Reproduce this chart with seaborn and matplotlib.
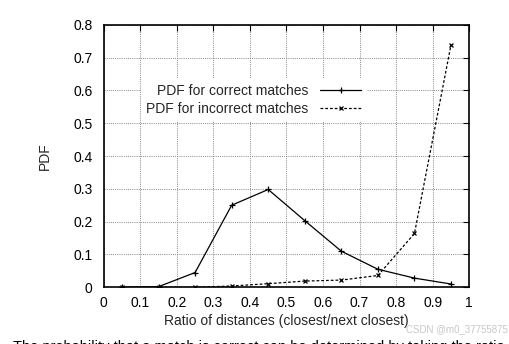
import matplotlib
matplotlib.use("Agg")
import matplotlib.pyplot as plt
import seaborn as sns

# Bin centres of the distance ratio
ratio = [0.05, 0.15, 0.25, 0.35, 0.45, 0.55, 0.65, 0.75, 0.85, 0.95]
pdf_correct = [0.0, 0.002, 0.045, 0.250, 0.298, 0.203, 0.110, 0.055, 0.028, 0.010]
pdf_incorrect = [0.0, 0.0, 0.0, 0.004, 0.011, 0.019, 0.022, 0.036, 0.164, 0.739]

series_labels = ["PDF for correct matches", "PDF for incorrect matches"]
x_ticks = [0, 0.1, 0.2, 0.3, 0.4, 0.5, 0.6, 0.7, 0.8, 0.9, 1]
x_tick_labels = ["0", "0.1", "0.2", "0.3", "0.4", "0.5", "0.6", "0.7", "0.8", "0.9", "1"]
y_ticks = [0, 0.1, 0.2, 0.3, 0.4, 0.5, 0.6, 0.7, 0.8]
y_tick_labels = ["0", "0.1", "0.2", "0.3", "0.4", "0.5", "0.6", "0.7", "0.8"]

sns.set_theme(style="white")
plt.rcParams["font.family"] = ["Liberation Sans", "DejaVu Sans"]

fig = plt.figure(figsize=(5.10, 3.44), dpi=100)
ax = fig.add_axes([0.2033, 0.1648, 0.7169, 0.7634])

sns.lineplot(x=ratio, y=pdf_correct, ax=ax, color="black", linewidth=0.9,
             linestyle="-", marker="+", markersize=4.5, markeredgewidth=0.9,
             markeredgecolor="black", label=series_labels[0])
sns.lineplot(x=ratio, y=pdf_incorrect, ax=ax, color="black", linewidth=0.9,
             linestyle=(0, (2.2, 1.6)), marker="x", markersize=3.5, markeredgewidth=0.9,
             markeredgecolor="black", label=series_labels[1])

ax.set_xlim(0, 1)
ax.set_ylim(0, 0.8)
ax.set_xticks(x_ticks)
ax.set_xticklabels(x_tick_labels)
ax.set_yticks(y_ticks)
ax.set_yticklabels(y_tick_labels)
ax.grid(True, color="#888888", linestyle=(0, (1, 1.2)), linewidth=0.7)
ax.set_axisbelow(True)
ax.tick_params(axis="both", direction="in", length=4, width=0.8, colors="black",
               labelsize=10, top=True, right=True)
ax.tick_params(axis="y", pad=8)
ax.tick_params(axis="x", pad=6)
for sp in ax.spines.values():
    sp.set_visible(True)
    sp.set_color("black")
    sp.set_linewidth(1.2)

ax.set_xlabel("Ratio of distances (closest/next closest)", fontsize=10, labelpad=3)
ax.set_ylabel("PDF", fontsize=10, labelpad=15)

leg = ax.legend(loc="upper right", bbox_to_anchor=(0.72, 0.797),
                markerfirst=False, frameon=True, fancybox=False, fontsize=10,
                handlelength=3.0, handletextpad=0.8, labelspacing=0.3,
                borderpad=0.4, borderaxespad=0)
leg.get_frame().set_facecolor("white")
leg.get_frame().set_edgecolor("none")
leg.get_frame().set_alpha(1)

fig.text(0.995, 0.042, "CSDN @m0_37755875", ha="right", va="center",
         fontsize=7, color="#c8c8c8")
fig.text(0.025, 0.012,
         "The probability that a match is correct can be determined by taking the ratio",
         ha="left", va="top", fontsize=10.5, color="black")

fig.savefig("out.png", dpi=100, facecolor="white")
